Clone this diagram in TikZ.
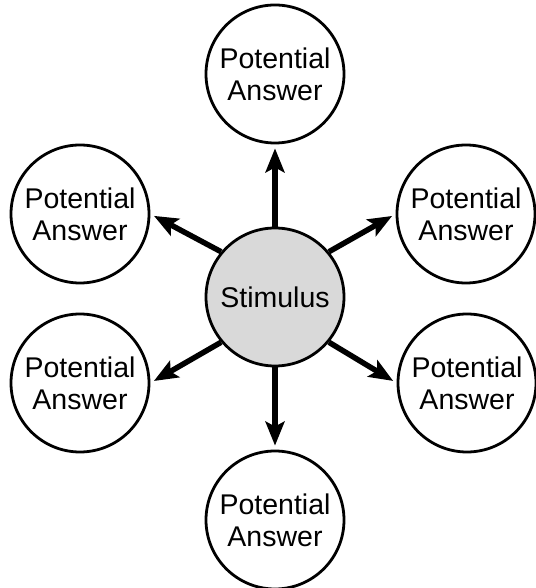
\documentclass[tikz,border=0pt]{standalone}
\usepackage{fontspec}
\setmainfont{Liberation Sans}
\usetikzlibrary{arrows.meta}
\begin{document}
\begin{tikzpicture}[x=1pt,y=1pt,
  answer/.style={draw,circle,line width=2.8pt,minimum size=138pt,inner sep=0pt,
    align=center,font=\fontsize{28.5}{32}\selectfont},
  stimbox/.style={answer,fill=gray!30},
  arr/.style={line width=5.5pt,-{Stealth[length=24pt,width=19pt,inset=5pt]},shorten >=4pt}]
\useasboundingbox (0,0) rectangle (535,588);
% centre and answers
\node[stimbox] (stim) at (275,291) {Stimulus};
\node[answer] (top) at (275,514) {Potential\\Answer};
\node[answer] (ul) at (80,374) {Potential\\Answer};
\node[answer] (ur) at (466,374) {Potential\\Answer};
\node[answer] (ll) at (80,205) {Potential\\Answer};
\node[answer] (lr) at (467,205) {Potential\\Answer};
\node[answer] (bot) at (275,68) {Potential\\Answer};
% arrows
\draw[arr] (stim.north) -- (top.south);
\draw[arr] (stim.south) -- (bot.north);
\draw[arr] (stim.140) -- (ul.east);
\draw[arr] (stim.40) -- (ur.west);
\draw[arr] (stim.220) -- (ll.east);
\draw[arr] (stim.320) -- (lr.west);
\end{tikzpicture}
\end{document}
